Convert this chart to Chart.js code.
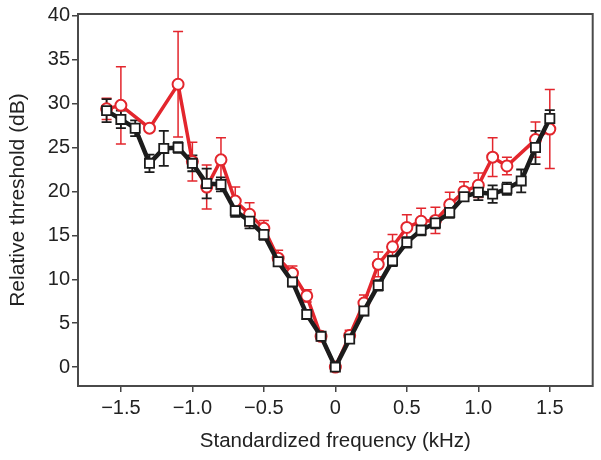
<!DOCTYPE html>
<html>
<head>
<meta charset="utf-8">
<script src="https://cdn.jsdelivr.net/npm/chart.js@4.4.1/dist/chart.umd.min.js"></script>
<style>
  html, body { margin: 0; padding: 0; background: #fff; }
  #chart { display: block; }
</style>
</head>
<body>
<canvas id="chart" width="601" height="460"></canvas>
<script>
// 데이터
const blackFreq = [-1.6, -1.5, -1.4, -1.3, -1.2, -1.1, -1.0, -0.9, -0.8, -0.7, -0.6, -0.5, -0.4, -0.3, -0.2, -0.1,
  0, 0.1, 0.2, 0.3, 0.4, 0.5, 0.6, 0.7, 0.8, 0.9, 1.0, 1.1, 1.2, 1.3, 1.4, 1.5];
const blackThr = [29.2, 28.2, 27.2, 23.2, 24.9, 25.0, 23.2, 20.9, 20.8, 17.8, 16.6, 15.1, 12.0, 9.7, 6.0, 3.5,
  0, 3.2, 6.4, 9.3, 12.1, 14.2, 15.6, 16.4, 17.6, 19.4, 19.9, 19.7, 20.3, 21.2, 25.0, 28.3];
const blackErr = [1.3, 1.0, 0.9, 1.0, 2.0, 0.6, 0.9, 1.7, 0.8, 0.7, 0.8, 0.6, 0.5, 0.5, 0.5, 0.4,
  0, 0.4, 0.5, 0.6, 0.6, 0.6, 0.6, 0.6, 0.6, 0.5, 0.9, 1.0, 0.7, 1.3, 1.9, 0.95];

const redFreq = [-1.6, -1.5, -1.3, -1.1, -1.0, -0.9, -0.8, -0.7, -0.6, -0.5, -0.4, -0.3, -0.2, -0.1,
  0, 0.1, 0.2, 0.3, 0.4, 0.5, 0.6, 0.7, 0.8, 0.9, 1.0, 1.1, 1.2, 1.4, 1.5];
const redThr = [29.4, 29.8, 27.2, 32.2, 23.4, 20.5, 23.6, 18.9, 17.4, 15.8, 12.4, 10.7, 8.1, 3.5,
  0, 3.6, 7.3, 11.7, 13.7, 15.9, 16.6, 16.7, 18.5, 20.0, 20.7, 23.9, 22.9, 25.9, 27.1];
const redErr = [1.2, 4.4, 0.3, 6.0, 2.2, 2.5, 2.5, 1.6, 1.3, 0.9, 0.9, 0.8, 0.7, 0.5,
  0, 0.6, 0.9, 1.4, 1.4, 1.45, 1.5, 1.5, 1.4, 1.1, 1.4, 2.2, 1.0, 2.0, 4.5];

const xTicks = [-1.5, -1.0, -0.5, 0, 0.5, 1.0, 1.5];
const xTickLabels = ['\u22121.5', '\u22121.0', '\u22120.5', '0', '0.5', '1.0', '1.5'];
const yTicks = [0, 5, 10, 15, 20, 25, 30, 35, 40];

const RED = '#e3262d';
const BLACK = '#1c1c1c';
const FONT = "'Liberation Sans', Arial, sans-serif";

const toPoints = (xs, ys) => xs.map((x, i) => ({ x: x, y: ys[i] }));

// 오차 막대 그리기
function drawErrorBars(chart, dsIndex, errs, color, width) {
  const ctx = chart.ctx;
  const meta = chart.getDatasetMeta(dsIndex);
  const yScale = chart.scales.y;
  const data = chart.data.datasets[dsIndex].data;
  ctx.save();
  ctx.strokeStyle = color;
  ctx.lineWidth = width;
  meta.data.forEach((pt, i) => {
    const e = errs[i];
    if (!e) return;
    const yTop = yScale.getPixelForValue(data[i].y + e);
    const yBot = yScale.getPixelForValue(data[i].y - e);
    const x = pt.x;
    ctx.beginPath();
    ctx.moveTo(x, yTop); ctx.lineTo(x, yBot);
    ctx.moveTo(x - 5, yTop); ctx.lineTo(x + 5, yTop);
    ctx.moveTo(x - 5, yBot); ctx.lineTo(x + 5, yBot);
    ctx.stroke();
  });
  ctx.restore();
}

const framePlugin = {
  id: 'frame',
  beforeDatasetsDraw(chart) {
    const { ctx, chartArea: a } = chart;
    ctx.save();
    ctx.strokeStyle = '#4a4a4a';
    ctx.lineWidth = 2;
    ctx.strokeRect(a.left, a.top, a.right - a.left, a.bottom - a.top);
    ctx.restore();
    drawErrorBars(chart, 1, redErr, RED, 1.5);
    drawErrorBars(chart, 0, blackErr, BLACK, 1.8);
  },
};

new Chart(document.getElementById('chart').getContext('2d'), {
  type: 'line',
  data: {
    datasets: [
      {
        label: 'black',
        data: toPoints(blackFreq, blackThr),
        borderColor: BLACK,
        borderWidth: 4.5,
        pointStyle: 'rect',
        pointRadius: 6.5,
        pointBackgroundColor: '#fff',
        pointBorderColor: BLACK,
        pointBorderWidth: 1.8,
        tension: 0,
      },
      {
        label: 'red',
        data: toPoints(redFreq, redThr),
        borderColor: RED,
        borderWidth: 3.5,
        pointStyle: 'circle',
        pointRadius: 5.5,
        pointBackgroundColor: '#fff',
        pointBorderColor: RED,
        pointBorderWidth: 2,
        tension: 0,
      },
    ],
  },
  options: {
    responsive: false,
    animation: false,
    layout: { padding: { top: 13, right: 5, left: 0, bottom: 0 } },
    plugins: { legend: { display: false }, tooltip: { enabled: false } },
    scales: {
      x: {
        type: 'linear',
        min: -1.8,
        max: 1.8,
        afterBuildTicks: (s) => { s.ticks = xTicks.map((v) => ({ value: v })); },
        afterFit: (s) => { s.height = 74; },
        ticks: {
          color: '#222',
          font: { family: FONT, size: 20 },
          padding: 4,
          maxRotation: 0,
          callback: (v) => xTickLabels[xTicks.indexOf(v)],
        },
        grid: { drawOnChartArea: false, drawTicks: true, tickLength: 6, color: '#444', lineWidth: 1.5 },
        border: { display: false },
        title: {
          display: true,
          text: 'Standardized frequency (kHz)',
          color: '#222',
          font: { family: FONT, size: 20.5 },
          padding: { top: 4, bottom: 6 },
        },
      },
      y: {
        min: -2.15,
        max: 40.2,
        afterBuildTicks: (s) => { s.ticks = yTicks.map((v) => ({ value: v })); },
        afterFit: (s) => { s.width = 78; },
        ticks: {
          color: '#222',
          font: { family: FONT, size: 20 },
          padding: 2,
        },
        grid: { drawOnChartArea: false, drawTicks: true, tickLength: 6, color: '#444', lineWidth: 1.5 },
        border: { display: false },
        title: {
          display: true,
          text: 'Relative threshold (dB)',
          color: '#222',
          font: { family: FONT, size: 21 },
          padding: { top: 6, bottom: 0 },
        },
      },
    },
  },
  plugins: [framePlugin],
});
</script>
</body>
</html>
